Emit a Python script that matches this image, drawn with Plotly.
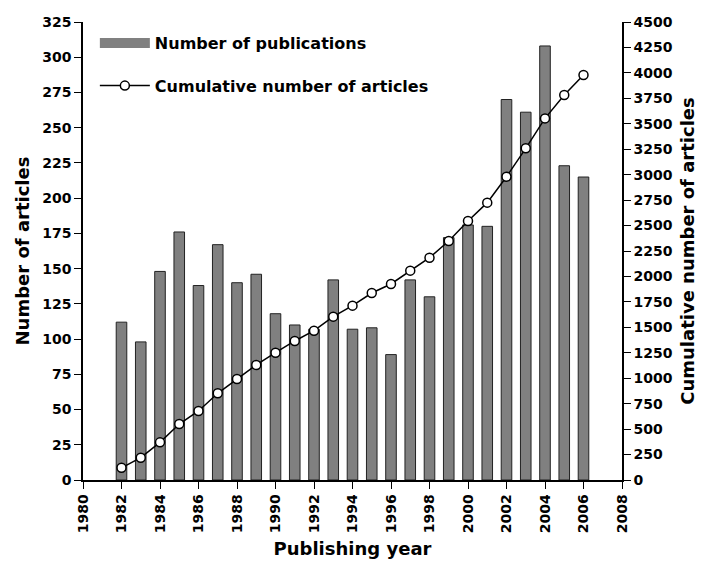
import plotly.graph_objects as go

# Dados
anos = list(range(1982, 2007))
publicacoes = [112, 98, 148, 176, 138, 167, 140, 146, 118, 110, 107, 142, 107,
               108, 89, 142, 130, 172, 181, 180, 270, 261, 308, 223, 215]
acumulado = [120, 219, 370, 550, 678, 852, 992, 1130, 1251, 1366, 1467, 1605, 1713,
             1837, 1926, 2057, 2184, 2348, 2545, 2725, 2980, 3259, 3553, 3783, 3979]

anos_ticks = list(range(1980, 2009, 2))
y1_ticks = list(range(0, 326, 25))
y2_ticks = list(range(0, 4501, 250))

fonte = "DejaVu Sans"
titulo_fonte = dict(family = fonte, size = 18, color = "black", weight = "bold")

fig = go.Figure()
fig.add_trace(
    go.Bar(
        x = anos,
        y = publicacoes,
        name = "Number of publications",
        width = 0.55,
        marker = dict(color = "#808080", line = dict(color = "#222222", width = 1)),
        showlegend = False,
        yaxis = "y"
    )
)
# entrada de legenda em forma de retângulo largo
fig.add_trace(
    go.Scatter(
        x = [None],
        y = [None],
        name = "Number of publications",
        mode = "lines",
        line = dict(color = "#808080", width = 19),
        legend = "legend",
        yaxis = "y"
    )
)
fig.add_trace(
    go.Scatter(
        x = anos,
        y = acumulado,
        name = "Cumulative number of articles",
        mode = "lines+markers",
        line = dict(color = "black", width = 1.5),
        marker = dict(symbol = "circle", size = 9, color = "white",
                      line = dict(color = "black", width = 1.5)),
        legend = "legend2",
        yaxis = "y2"
    )
)

eixo = dict(
    showline = True,
    linecolor = "black",
    linewidth = 1.5,
    ticks = "outside",
    ticklen = 7,
    tickcolor = "black",
    showgrid = False,
    zeroline = False,
    automargin = False,
    tickfont = dict(family = fonte, size = 14, color = "black", weight = "bold"),
)

fig.update_layout(
    width = 702,
    height = 572,
    plot_bgcolor = "white",
    paper_bgcolor = "white",
    margin = dict(l = 75, r = 88, t = 14, b = 100),
    xaxis = dict(
        **eixo,
        range = [1980, 2008],
        tickvals = anos_ticks,
        tickangle = -90,
        title = dict(text = "Publishing year", font = titulo_fonte, standoff = 10),
    ),
    yaxis = dict(
        **eixo,
        range = [0, 325],
        tickvals = y1_ticks,
        title = dict(text = "Number of articles", font = titulo_fonte, standoff = 8),
    ),
    yaxis2 = dict(
        **eixo,
        overlaying = "y",
        side = "right",
        range = [0, 4500],
        tickvals = y2_ticks,
        title = dict(text = "Cumulative number of articles", font = titulo_fonte, standoff = 10),
    ),
    legend = dict(
        x = 0.022, y = 0.991, xanchor = "left", yanchor = "top",
        bgcolor = "rgba(0,0,0,0)",
        itemwidth = 50,
        font = dict(family = fonte, size = 16, color = "black", weight = "bold"),
    ),
    legend2 = dict(
        x = 0.022, y = 0.898, xanchor = "left", yanchor = "top",
        bgcolor = "rgba(0,0,0,0)",
        itemwidth = 50,
        font = dict(family = fonte, size = 16, color = "black", weight = "bold"),
    ),
    showlegend = True,
)

fig.write_html("out.html")
